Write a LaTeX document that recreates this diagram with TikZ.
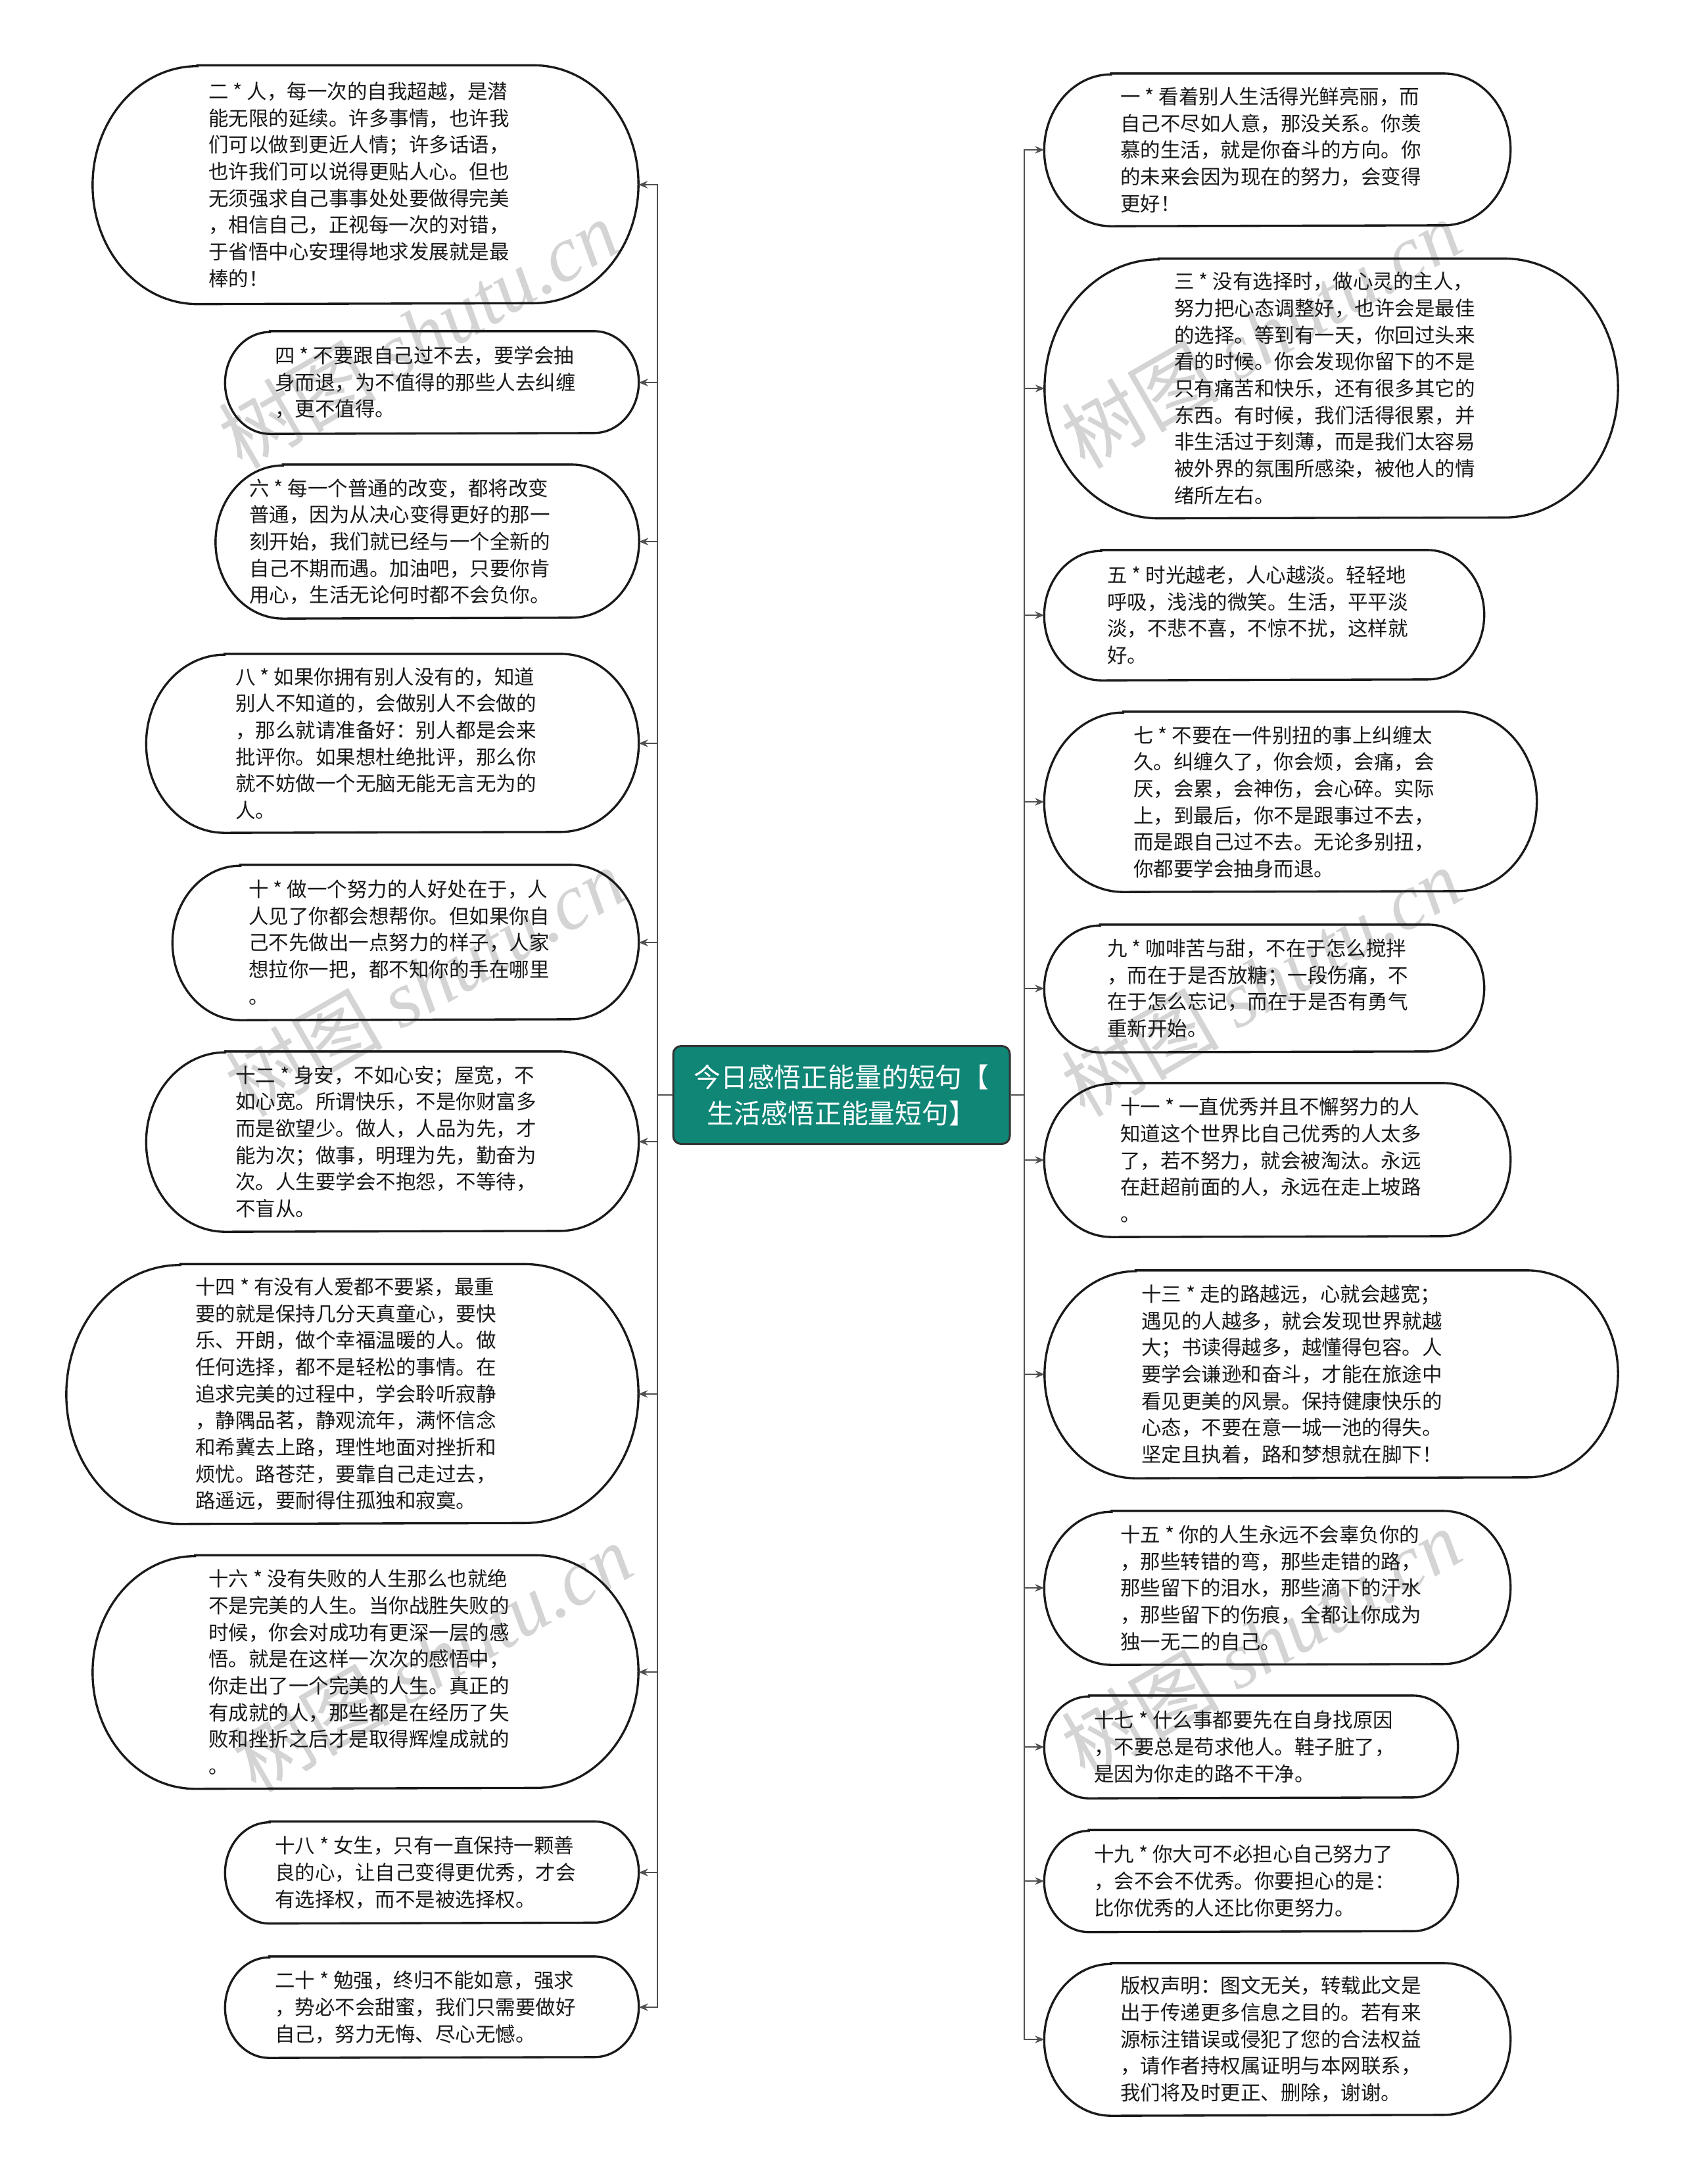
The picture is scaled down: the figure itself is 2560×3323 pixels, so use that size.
\documentclass[tikz,border=0pt]{standalone}
\usepackage{fontspec}
\setmainfont{Noto Sans CJK SC}
\newfontfamily\wmlatin{Liberation Serif}
\usetikzlibrary{arrows.meta}
\definecolor{rootteal}{RGB}{16,134,119}
\definecolor{edgegray}{RGB}{80,80,80}
\definecolor{bubdark}{RGB}{26,26,26}
\tikzset{
  bubtext/.style={align=left, inner sep=0pt, text=black!90,
    font=\fontsize{9.15pt}{12.2pt}\selectfont},
  bubline/.style={draw=bubdark, line width=1.0pt},
  conn/.style={draw=edgegray, line width=0.6pt, -{Stealth[length=4.2pt,width=3.4pt]}},
  rootbox/.style={fill=rootteal, draw=black!80, line width=0.9pt, rounded corners=3.6pt,
    text=white, align=center, inner sep=0pt,
    font=\fontsize{12.25pt}{16.5pt}\selectfont,
    minimum width=153.6pt, minimum height=44.7pt},
  wmark/.style={text=black!17, rotate=30, inner sep=0pt,
    font=\fontsize{36pt}{36pt}\selectfont}
}
% [text x-offset in px]{name}{cx}{cy}{W}{H}{text}
\newcommand\bub[7][-10]{%
  \node[inner sep=0pt, minimum width=#5*0.3pt, minimum height=#6*0.3pt] (#2) at (#3,#4) {};
  \node[bubtext] (#2-t) at ([xshift=#1*0.3pt]#2.center) {#7};
  \pgfmathsetmacro\bubrx{0.44*#6*0.3}%
  \pgfmathsetmacro\bubry{0.5*#6*0.3}%
  \draw[bubline] ([xshift=\bubrx pt]#2.north west) -- ([xshift=-\bubrx pt]#2.north east)
    arc[start angle=90, end angle=-90, x radius=\bubrx pt, y radius=\bubry pt]
    -- ([xshift=\bubrx pt]#2.south west)
    arc[start angle=270, end angle=90, x radius=\bubrx pt, y radius=\bubry pt] -- cycle;
}
\begin{document}
\begin{tikzpicture}[x=0.3pt, y=-0.3pt]
\useasboundingbox (0,0) rectangle (2560,3323);
\fill[white] (0,0) rectangle (2560,3323);

% watermarks
\node[wmark] (w1) at (636,508) {树图 {\wmlatin\itshape shutu.cn}};
\node[wmark] (w2) at (646,1494) {树图 {\wmlatin\itshape shutu.cn}};
\node[wmark] (w3) at (657,2522) {树图 {\wmlatin\itshape shutu.cn}};
\node[wmark] (w4) at (1918,508) {树图 {\wmlatin\itshape shutu.cn}};
\node[wmark] (w5) at (1918,1494) {树图 {\wmlatin\itshape shutu.cn}};
\node[wmark] (w6) at (1918,2500) {树图 {\wmlatin\itshape shutu.cn}};

% root
\node[rootbox] (c) at (1280,1666) {今日感悟正能量的短句【\\生活感悟正能量短句】};
\coordinate (lt) at (1000,1666);
\coordinate (rt) at (1558,1666);

% left column
\bub{n2}{556}{281}{829}{362}{二 * 人，每一次的自我超越，是潜\\能无限的延续。许多事情，也许我\\们可以做到更近人情；许多话语，\\也许我们可以说得更贴人心。但也\\无须强求自己事事处处要做得完美\\，相信自己，正视每一次的对错，\\于省悟中心安理得地求发展就是最\\棒的！}
\bub{n4}{657}{582}{628}{155}{四 * 不要跟自己过不去，要学会抽\\身而退，为不值得的那些人去纠缠\\，更不值得。}
\bub[-42]{n6}{650}{824}{643}{233}{六 * 每一个普通的改变，都将改变\\普通，因为从决心变得更好的那一\\刻开始，我们就已经与一个全新的\\自己不期而遇。加油吧，只要你肯\\用心，生活无论何时都不会负你。}
\bub{n8}{597}{1131}{748}{271}{八 * 如果你拥有别人没有的，知道\\别人不知道的，会做别人不会做的\\，那么就请准备好：别人都是会来\\批评你。如果想杜绝批评，那么你\\就不妨做一个无脑无能无言无为的\\人。}
\bub{n10}{617}{1434}{708}{235}{十 * 做一个努力的人好处在于，人\\人见了你都会想帮你。但如果你自\\己不先做出一点努力的样子，人家\\想拉你一把，都不知你的手在哪里\\。}
\bub{n12}{597}{1737}{748}{273}{十二 * 身安，不如心安；屋宽，不\\如心宽。所谓快乐，不是你财富多\\而是欲望少。做人，人品为先，才\\能为次；做事，明理为先，勤奋为\\次。人生要学会不抱怨，不等待，\\不盲从。}
\bub{n14}{536}{2121}{869}{394}{十四 * 有没有人爱都不要紧，最重\\要的就是保持几分天真童心，要快\\乐、开朗，做个幸福温暖的人。做\\任何选择，都不是轻松的事情。在\\追求完美的过程中，学会聆听寂静\\，静隅品茗，静观流年，满怀信念\\和希冀去上路，理性地面对挫折和\\烦忧。路苍茫，要靠自己走过去，\\路遥远，要耐得住孤独和寂寞。}
\bub{n16}{556}{2544}{829}{354}{十六 * 没有失败的人生那么也就绝\\不是完美的人生。当你战胜失败的\\时候，你会对成功有更深一层的感\\悟。就是在这样一次次的感悟中，\\你走出了一个完美的人生。真正的\\有成就的人，那些都是在经历了失\\败和挫折之后才是取得辉煌成就的\\。}
\bub{n18}{657}{2849}{628}{154}{十八 * 女生，只有一直保持一颗善\\良的心，让自己变得更优秀，才会\\有选择权，而不是被选择权。}
\bub{n20}{657}{3054}{628}{153}{二十 * 勉强，终归不能如意，强求\\，势必不会甜蜜，我们只需要做好\\自己，努力无悔、尽心无憾。}

% right column
\bub{n1}{1943}{228}{708}{231}{一 * 看着别人生活得光鲜亮丽，而\\自己不尽如人意，那没关系。你羡\\慕的生活，就是你奋斗的方向。你\\的未来会因为现在的努力，会变得\\更好！}
\bub{n3}{2025}{591}{871}{394}{三 * 没有选择时，做心灵的主人，\\努力把心态调整好，也许会是最佳\\的选择。等到有一天，你回过头来\\看的时候。你会发现你留下的不是\\只有痛苦和快乐，还有很多其它的\\东西。有时候，我们活得很累，并\\非生活过于刻薄，而是我们太容易\\被外界的氛围所感染，被他人的情\\绪所左右。}
\bub{n5}{1923}{936}{668}{197}{五 * 时光越老，人心越淡。轻轻地\\呼吸，浅浅的微笑。生活，平平淡\\淡，不悲不喜，不惊不扰，这样就\\好。}
\bub{n7}{1963}{1220}{748}{273}{七 * 不要在一件别扭的事上纠缠太\\久。纠缠久了，你会烦，会痛，会\\厌，会累，会神伤，会心碎。实际\\上，到最后，你不是跟事过不去，\\而是跟自己过不去。无论多别扭，\\你都要学会抽身而退。}
\bub{n9}{1923}{1504}{668}{193}{九 * 咖啡苦与甜，不在于怎么搅拌\\，而在于是否放糖；一段伤痛，不\\在于怎么忘记，而在于是否有勇气\\重新开始。}
\bub{n11}{1943}{1765}{708}{233}{十一 * 一直优秀并且不懈努力的人\\知道这个世界比自己优秀的人太多\\了，若不努力，就会被淘汰。永远\\在赶超前面的人，永远在走上坡路\\。}
\bub[-60]{n13}{2025}{2091}{871}{315}{十三 * 走的路越远，心就会越宽；\\遇见的人越多，就会发现世界就越\\大；书读得越多，越懂得包容。人\\要学会谦逊和奋斗，才能在旅途中\\看见更美的风景。保持健康快乐的\\心态，不要在意一城一池的得失。\\坚定且执着，路和梦想就在脚下！}
\bub{n15}{1943}{2416}{708}{233}{十五 * 你的人生永远不会辜负你的\\，那些转错的弯，那些走错的路，\\那些留下的泪水，那些滴下的汗水\\，那些留下的伤痕，全都让你成为\\独一无二的自己。}
\bub{n17}{1903}{2658}{628}{155}{十七 * 什么事都要先在自身找原因\\，不要总是苟求他人。鞋子脏了，\\是因为你走的路不干净。}
\bub{n19}{1903}{2862}{628}{154}{十九 * 你大可不必担心自己努力了\\，会不会不优秀。你要担心的是：\\比你优秀的人还比你更努力。}
\bub{nc}{1943}{3103}{708}{231}{版权声明：图文无关，转载此文是\\出于传递更多信息之目的。若有来\\源标注错误或侵犯了您的合法权益\\，请作者持权属证明与本网联系，\\我们将及时更正、删除，谢谢。}

% connectors
\foreach \n in {n2,n4,n6,n8,n10,n12,n14,n16,n18,n20}
  \draw[conn] (c.west) -- (lt) |- (\n.east);
\foreach \n in {n1,n3,n5,n7,n9,n11,n13,n15,n17,n19,nc}
  \draw[conn] (c.east) -- (rt) |- (\n.west);
\end{tikzpicture}
\end{document}
